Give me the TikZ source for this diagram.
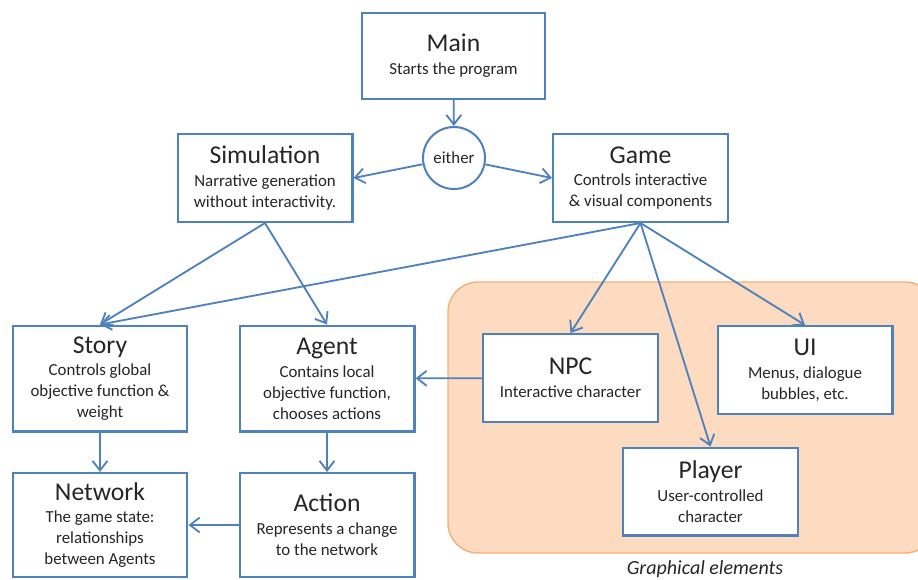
\documentclass[tikz,border=0pt]{standalone}
\usepackage{fontspec}
\setmainfont{Carlito}
\usetikzlibrary{arrows.meta}

\definecolor{boxblue}{RGB}{79,129,189}
\definecolor{regfill}{RGB}{252,219,192}
\definecolor{regdraw}{RGB}{247,175,118}

\newcommand{\ttl}[1]{{\fontsize{14.6}{17}\selectfont #1}}

\begin{document}
\begin{tikzpicture}[
  x=0.02cm, y=-0.02cm,
  comp/.style={rectangle, draw=boxblue, line width=1.15pt, fill=white, text=black!85, align=center, minimum width=3.5cm, minimum height=1.76cm, inner sep=1pt, font=\fontsize{9.6}{11.9}\selectfont},
  tall/.style={comp, minimum height=2.12cm},
  choice/.style={circle, draw=boxblue, line width=1.15pt, fill=white, text=black!85, minimum size=1.24cm, inner sep=0pt, font=\fontsize{9.6}{11.9}\selectfont},
  region/.style={draw=regdraw, fill=regfill, line width=0.8pt, rounded corners=17pt},
  arrow/.style={-{Straight Barb[length=5.5pt, width=8.5pt]}, draw=boxblue, line width=1.05pt},
]

\useasboundingbox (0,0) rectangle (918,579);

% ══ Column positions ══
\def\xl{100}
\def\xm{327}

% ══ Graphical elements (right) ══
\begin{scope}
  \clip (0,0) rectangle (918,579);
  \draw[region] (448,282) rectangle (935,553);
\end{scope}
\node[font=\fontsize{11.4}{13}\selectfont\itshape, text=black!85] (grlabel) at (705,569) {Graphical elements};

% ══ Top ══
\node[comp, minimum width=3.66cm, minimum height=1.72cm] (main) at (453.5,56) {\ttl{Main}\\[1.1pt] Starts the program};
\node[choice] (either) at (454,158) {either};
\node[comp] (sim) at (265,178) {\ttl{Simulation}\\[1.1pt] Narrative generation\\ without interactivity.};
\node[comp] (game) at (640.5,178) {\ttl{Game}\\[1.1pt] Controls interactive\\ \& visual components};

% ══ Left columns ══
\node[tall] (story) at (\xl,378.5) {\ttl{Story}\\[1.1pt] Controls global\\ objective function \&\\ weight};
\node[tall] (agent) at (\xm,378.5) {\ttl{Agent}\\[1.1pt] Contains local\\ objective function,\\ chooses actions};
\node[tall, minimum height=2.08cm] (network) at (\xl,525) {\ttl{Network}\\[1.1pt] The game state:\\ relationships\\ between Agents};
\node[tall, minimum height=2.08cm] (action) at (\xm,525) {\ttl{Action}\\[1.1pt] Represents a change\\ to the network};

% ══ Graphical nodes ══
\node[comp] (npc) at (570.5,378) {\ttl{NPC}\\[1.1pt] Interactive character};
\node[comp] (ui) at (805,370) {\ttl{UI}\\[1.1pt] Menus, dialogue\\ bubbles, etc.};
\node[comp] (player) at (710.5,491.5) {\ttl{Player}\\[1.1pt] User-controlled\\ character};

% ══ Connectors ══
\draw[arrow] (main) -- (either);
\draw[arrow] (either) -- (sim.east);
\draw[arrow] (either) -- (game.west);

\draw[arrow] (sim.south) -- (story.north);
\draw[arrow] (sim.south) -- (agent.north);
\draw[arrow] (game.south) -- (story.north);
\draw[arrow] (game.south) -- (npc.north);
\draw[arrow] (game.south) -- (player.north);
\draw[arrow] (game.south) -- (ui.north);

\draw[arrow] (story) -- (network);
\draw[arrow] (agent) -- (action);
\draw[arrow] (npc) -- (agent);
\draw[arrow] (action) -- (network);

\end{tikzpicture}
\end{document}
